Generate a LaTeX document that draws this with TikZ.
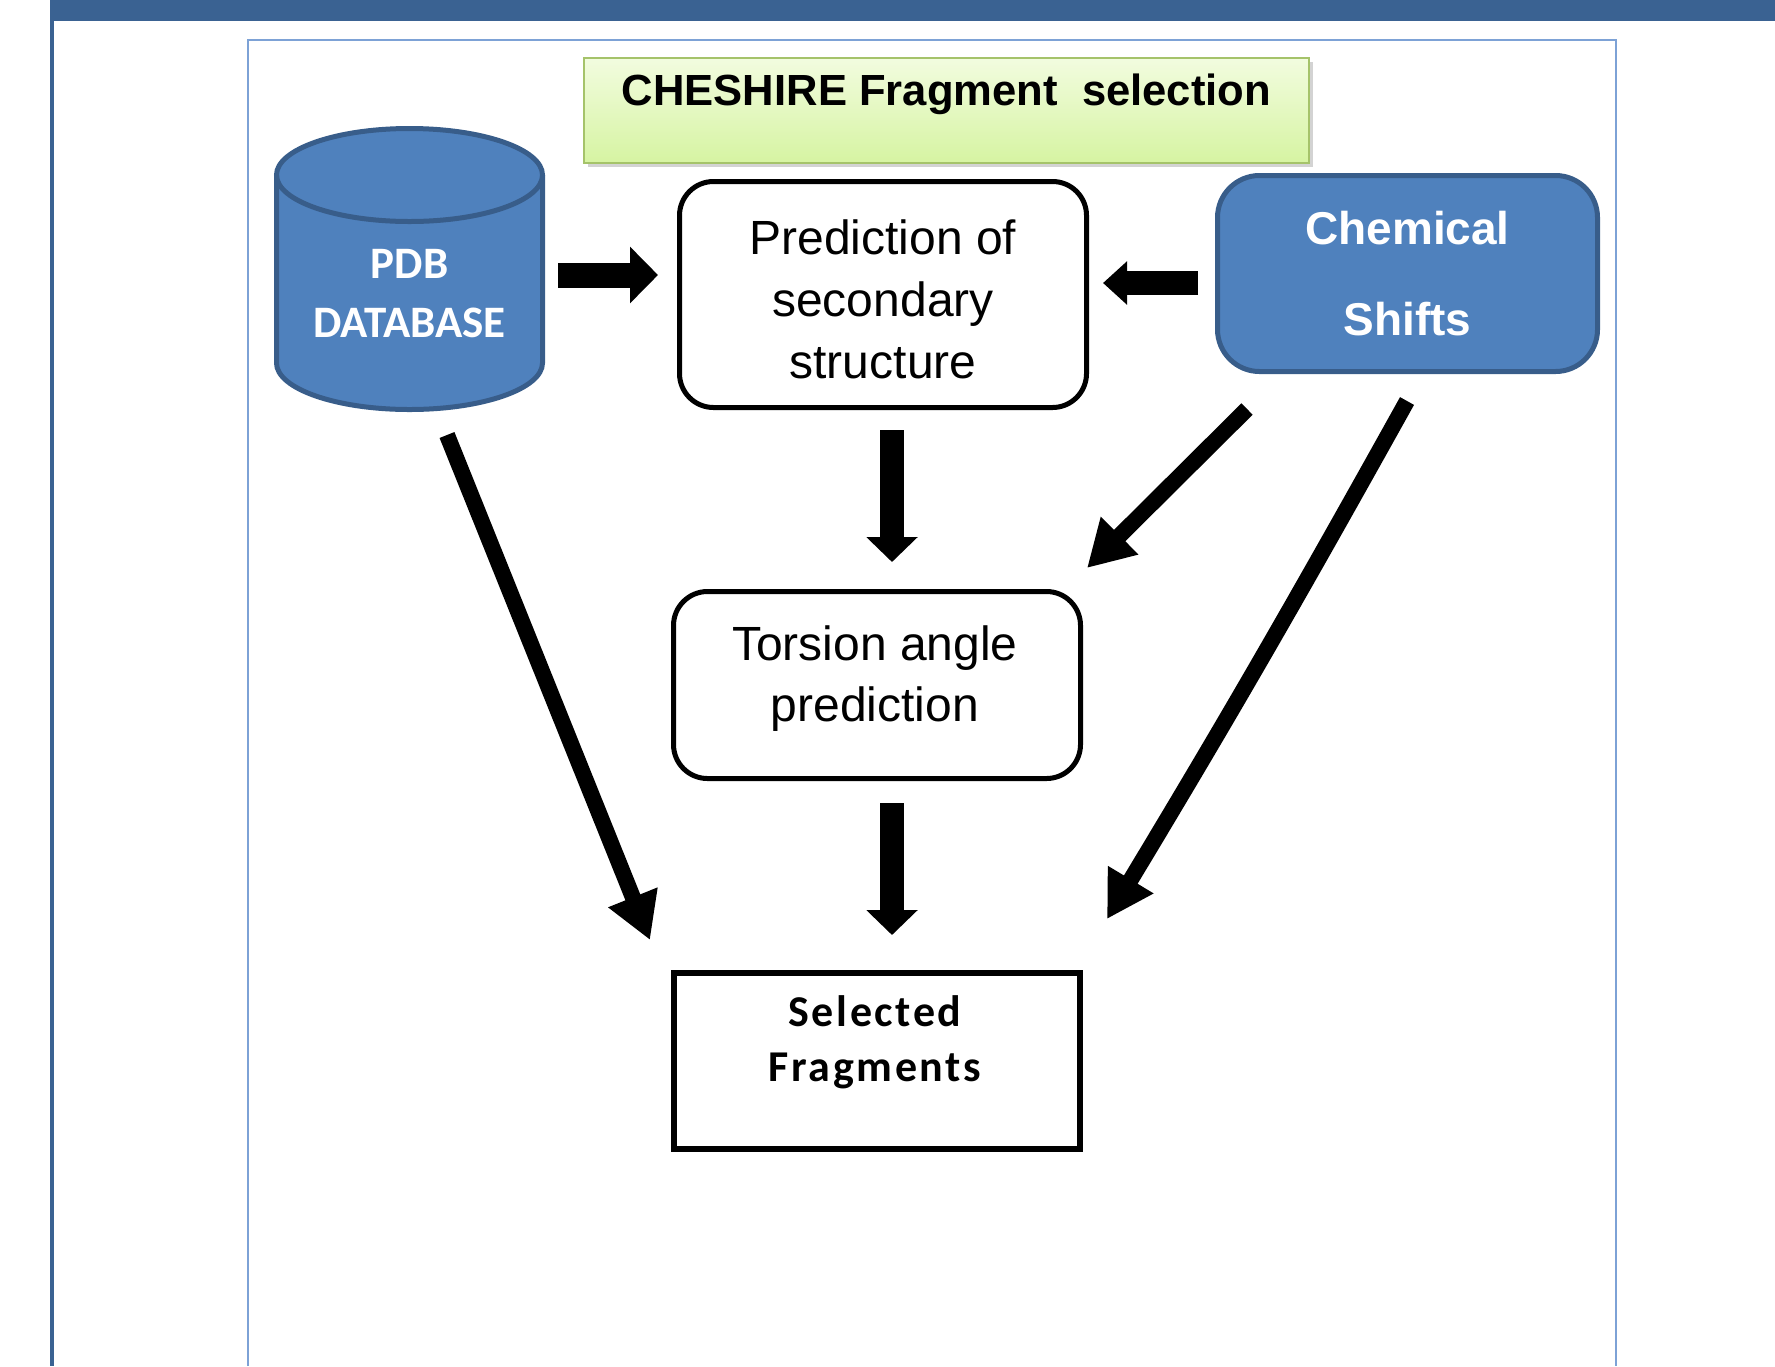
\documentclass[tikz,border=0pt]{standalone}
\usepackage{fontspec}
\setmainfont{Liberation Sans}
\newfontfamily\calfont{Carlito}
\newfontfamily\calspaced[LetterSpace=6]{Carlito}
\usetikzlibrary{arrows.meta,shadows}
\definecolor{barblue}{HTML}{3A6292}
\definecolor{frameblue}{HTML}{7DA2D6}
\definecolor{dbfill}{HTML}{4F81BD}
\definecolor{dbline}{HTML}{385D8A}
\definecolor{titleline}{HTML}{A5C36A}
\definecolor{titletop}{HTML}{F2FCDF}
\definecolor{titlebot}{HTML}{D6F4A2}
\begin{document}
\begin{tikzpicture}[x=0.5pt,y=0.5pt,
  stepbox/.style={draw=black,line width=2.5pt,rounded corners=17pt,fill=white,
    minimum width=203.5pt,inner sep=0pt},
  boxtext/.style={align=center,inner sep=0pt,font=\fontsize{24}{31}\selectfont},
  harrA/.style={line width=12.5pt,-{Triangle[width=27.5pt,length=14pt]}},
  harrB/.style={line width=12pt,-{Triangle[width=21pt,length=12pt]}},
  varr/.style={line width=12pt,-{Triangle[width=25pt,length=12.5pt]}},
  darr/.style={line width=8pt,-{Triangle[width=25pt,length=23pt]}}
]
\useasboundingbox (0,0) rectangle (1775,-1366);
% frames
\fill[barblue] (50,0) rectangle (1775,-21);
\fill[barblue] (50,0) rectangle (54,-1366);
\draw[frameblue,line width=1pt] (248,-1366) -- (248,-40) -- (1616,-40) -- (1616,-1366);

% title
\node[draw=titleline,line width=1pt,top color=titletop,bottom color=titlebot,
  minimum width=362.5pt,minimum height=52.5pt,inner sep=0pt,
  drop shadow={shadow xshift=2pt,shadow yshift=-2pt,opacity=0.35}]
  (titlebox) at (946.5,-110.5) {};
\node[inner sep=0pt,font=\bfseries\fontsize{21.8}{26}\selectfont] (title) at (946.5,-94.5)
  {CHESHIRE Fragment\ \ selection};

% PDB cylinder
\fill[dbfill] (276.5,-175) -- (276.5,-363)
  arc[start angle=180,end angle=360,x radius=66.5pt,y radius=23.25pt]
  -- (542.5,-175)
  arc[start angle=0,end angle=180,x radius=66.5pt,y radius=23.25pt] -- cycle;
\draw[dbline,line width=2.5pt] (276.5,-175) -- (276.5,-363)
  arc[start angle=180,end angle=360,x radius=66.5pt,y radius=23.25pt]
  -- (542.5,-175);
\draw[dbline,line width=2.5pt] (409.5,-175) ellipse [x radius=66.5pt,y radius=23.25pt];
\node[align=center,inner sep=0pt,text=white,
  font=\calfont\bfseries\fontsize{22.5}{29.5}\selectfont] (pdb) at (409.5,-294)
  {PDB\\DATABASE};

% prediction of secondary structure
\node[stepbox,minimum height=113pt] (pred) at (883,-294.5) {};
\node[boxtext] (predtext) at (883,-299) {Prediction of\\secondary\\structure};

% chemical shifts
\node[draw=dbline,fill=dbfill,line width=2.5pt,rounded corners=21pt,
  minimum width=190pt,minimum height=98pt,inner sep=0pt,align=center,text=white,
  font=\bfseries\fontsize{23}{45.5}\selectfont] (chem) at (1407.5,-273.5)
  {Chemical\\Shifts};

% torsion
\node[stepbox,minimum height=93.5pt] (tors) at (877,-685) {};
\node[boxtext,font=\fontsize{24}{30.5}\selectfont] (torstext) at (875,-679)
  {Torsion angle\\prediction};

% selected fragments
\node[draw=black,line width=3pt,fill=white,minimum width=203pt,minimum height=88pt,
  inner sep=0pt] (sel) at (877,-1061) {};
\node[align=center,inner sep=0pt,font=\calspaced\bfseries\fontsize{22}{27.5}\selectfont]
  (seltext) at (875,-1042) {Selected\\Fragments};

% connector end points
\coordinate (a1s) at (558,-275);  \coordinate (a1e) at (658,-275);
\coordinate (a2s) at (1198,-283); \coordinate (a2e) at (1103,-283);
\coordinate (a3s) at (892,-430);  \coordinate (a3e) at (892,-562);
\coordinate (a4s) at (1247,-409); \coordinate (a4e) at (1087,-568);
\coordinate (a5s) at (892,-803);  \coordinate (a5e) at (892,-935);
\coordinate (a6s) at (447,-435);  \coordinate (a6e) at (650,-940);
\coordinate (a7s) at (1407,-401); \coordinate (a7e) at (1107,-919);

\draw[harrA] (a1s) -- (a1e);
\draw[harrB] (a2s) -- (a2e);
\draw[varr] (a3s) -- (a3e);
\draw[darr] (a4s) -- (a4e);
\draw[varr] (a5s) -- (a5e);
\draw[darr] (a6s) -- (a6e);
\draw[darr] (a7s) to[bend left=1] (a7e);
\end{tikzpicture}
\end{document}
